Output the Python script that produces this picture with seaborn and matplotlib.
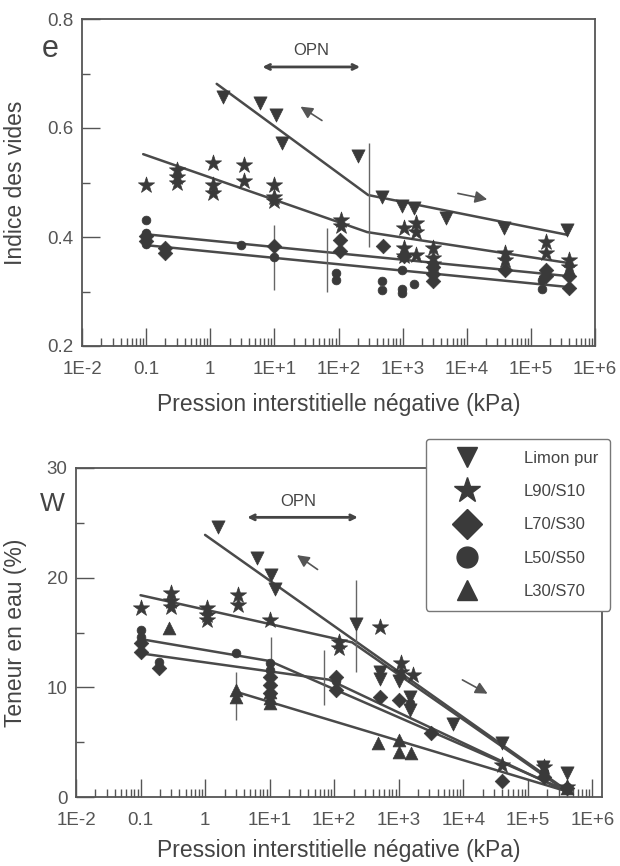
import matplotlib
matplotlib.use("Agg")
import matplotlib.pyplot as plt
from matplotlib.lines import Line2D
from matplotlib.ticker import FixedLocator, MultipleLocator, LogLocator, NullFormatter
import seaborn as sns

# ---- series names / markers
series_names = ["Limon pur", "L90/S10", "L70/S30", "L50/S50", "L30/S70"]
series_markers = ["v", "*", "D", "o", "^"]

# ---- top panel : void ratio e
top_limon_x = [1.6, 5.9, 10.7, 13, 204, 480, 980, 1500, 4700, 38000, 3.6e5]
top_limon_y = [0.657, 0.645, 0.623, 0.572, 0.549, 0.474, 0.456, 0.453, 0.435, 0.416, 0.413]
top_l90_x = [0.1, 0.3, 0.3, 0.3, 1.1, 1.1, 1.1, 3.4, 3.4, 10, 10, 10, 110, 110,
             1050, 1600, 1600, 1050, 1050, 1600, 3000, 3000, 3000, 40000, 40000,
             1.7e5, 1.7e5, 4e5, 4e5]
top_l90_y = [0.496, 0.523, 0.511, 0.499, 0.535, 0.496, 0.48, 0.532, 0.502, 0.496,
             0.474, 0.466, 0.431, 0.42, 0.416, 0.425, 0.41, 0.38, 0.365, 0.367,
             0.38, 0.362, 0.35, 0.37, 0.358, 0.39, 0.37, 0.358, 0.345]
top_l70_x = [0.1, 0.1, 0.2, 0.2, 10, 107, 107, 500, 1050, 3000, 3000, 3000,
             40000, 1.7e5, 1.7e5, 4e5, 4e5]
top_l70_y = [0.401, 0.392, 0.38, 0.37, 0.384, 0.395, 0.374, 0.384, 0.365, 0.345,
             0.332, 0.319, 0.340, 0.340, 0.328, 0.328, 0.307]
top_l50_x = [0.1, 0.1, 0.1, 3, 10, 93, 93, 480, 480, 980, 980, 980, 1500,
             1.5e5, 1.5e5, 4e5]
top_l50_y = [0.432, 0.407, 0.388, 0.386, 0.363, 0.334, 0.322, 0.32, 0.303, 0.339,
             0.304, 0.298, 0.313, 0.322, 0.304, 0.307]
top_l30_x = []
top_l30_y = []

# fitted lines (top)
top_fit_limon_x = [1.26, 290, 3.7e5]
top_fit_limon_y = [0.681, 0.477, 0.404]
top_fit_l90_x = [0.09, 280, 4e5]
top_fit_l90_y = [0.552, 0.409, 0.352]
top_fit_l70_x = [0.1, 4e5]
top_fit_l70_y = [0.405, 0.328]
top_fit_l50_x = [0.1, 4e5]
top_fit_l50_y = [0.385, 0.308]

top_bar_x = [10, 65, 300]
top_bar_lo = [0.303, 0.299, 0.382]
top_bar_hi = [0.422, 0.417, 0.573]

# ---- bottom panel : water content w
bot_limon_x = [1.6, 6.3, 10.5, 12, 215, 520, 520, 1000, 1500, 1500, 6900, 40000, 1.7e5, 4e5]
bot_limon_y = [24.6, 21.8, 20.2, 19.0, 15.8, 11.4, 10.8, 10.6, 9.1, 7.9, 6.7, 4.9, 2.7, 2.2]
bot_l90_x = [0.1, 0.3, 0.3, 0.3, 1.07, 1.07, 1.07, 3.2, 3.2, 10, 120, 120, 520,
             1070, 1070, 1650, 40000, 1.8e5, 4e5]
bot_l90_y = [17.2, 18.6, 17.9, 17.3, 17.2, 16.6, 16.1, 18.4, 17.5, 16.1, 14.1, 13.6,
             15.5, 12.2, 11.4, 11.1, 2.9, 2.7, 0.9]
bot_l70_x = [0.1, 0.1, 0.19, 10, 10, 10, 105, 105, 520, 1000, 3200, 40000, 1.8e5, 4e5]
bot_l70_y = [14.0, 13.2, 11.8, 10.9, 10.2, 9.5, 10.9, 9.8, 9.1, 8.8, 5.8, 1.5, 1.8, 0.8]
bot_l50_x = [0.1, 0.1, 0.19, 3.0, 10, 10, 105, 1500, 1.8e5, 4e5]
bot_l50_y = [15.2, 14.6, 12.3, 13.1, 12.2, 11.6, 10.6, 8.6, 2.3, 0.9]
bot_l30_x = [0.28, 3.0, 3.0, 10, 10, 10, 470, 1000, 1000, 1550, 4e5]
bot_l30_y = [15.4, 9.8, 9.1, 9.6, 9.0, 8.6, 4.9, 5.2, 4.1, 4.0, 0.8]

bot_fit_limon_x = [1.0, 3.6e5]
bot_fit_limon_y = [23.9, 0.8]
bot_fit_l90_x = [0.1, 190, 3.6e5]
bot_fit_l90_y = [18.4, 14.1, 0.7]
bot_fit_l50_x = [0.1, 10, 3.6e5]
bot_fit_l50_y = [14.4, 12.4, 0.7]
bot_fit_l70_x = [0.1, 83, 3.6e5]
bot_fit_l70_y = [13.1, 10.7, 0.6]
bot_fit_l30_x = [3.0, 3.6e5]
bot_fit_l30_y = [9.6, 0.6]

bot_bar_x = [3.0, 10.5, 69, 220]
bot_bar_lo = [7.0, 8.2, 8.4, 11.4]
bot_bar_hi = [11.4, 14.6, 13.4, 19.8]

x_tick_values = [1e-2, 1e-1, 1, 1e1, 1e2, 1e3, 1e4, 1e5, 1e6]
x_tick_labels = ["1E-2", "0.1", "1", "1E+1", "1E+2", "1E+3", "1E+4", "1E+5", "1E+6"]

INK = "#3a3a3a"
marker_sizes = {"v": 90, "*": 150, "D": 55, "o": 40, "^": 85}

sns.set_style("white")
plt.rcParams["font.family"] = ["Liberation Sans", "DejaVu Sans"]
plt.rcParams["text.color"] = "#444444"
plt.rcParams["axes.labelcolor"] = "#444444"
plt.rcParams["xtick.color"] = "#555555"
plt.rcParams["ytick.color"] = "#555555"

fig = plt.figure(figsize=(6.2, 8.66), dpi=100)
ax_e = fig.add_axes([82 / 620, 1 - 346 / 866, 513 / 620, 327 / 866])
ax_w = fig.add_axes([76 / 620, 1 - 797 / 866, 526 / 620, 329 / 866])


def draw_points(ax, xs, ys):
    for x, y, m in zip(xs, ys, series_markers):
        if len(x) == 0:
            continue
        sns.scatterplot(x=x, y=y, marker=m, s=marker_sizes[m], color=INK,
                        edgecolor=INK, linewidth=0.5, ax=ax, zorder=3)


def style_axis(ax, xmax):
    ax.set_xscale("log")
    ax.set_xlim(1e-2, xmax)
    ax.xaxis.set_major_locator(FixedLocator(x_tick_values))
    ax.set_xticklabels(x_tick_labels)
    ax.xaxis.set_minor_locator(LogLocator(base=10, subs=range(2, 10), numticks=20))
    ax.xaxis.set_minor_formatter(NullFormatter())
    ax.tick_params(which="both", bottom=True, left=True, top=False, right=False)
    ax.tick_params(which="major", direction="in", length=13, width=1, labelsize=13.5, pad=11)
    ax.tick_params(which="minor", direction="in", length=6, width=1)
    ax.tick_params(axis="y", which="major", pad=6)
    for sp in ax.spines.values():
        sp.set_color("#555555")
        sp.set_linewidth(1.3)
    ax.set_xlabel("Pression interstitielle négative (kPa)", fontsize=16.5)


# ---------- top panel
draw_points(ax_e, [top_limon_x, top_l90_x, top_l70_x, top_l50_x, top_l30_x],
            [top_limon_y, top_l90_y, top_l70_y, top_l50_y, top_l30_y])
for fx, fy in [(top_fit_limon_x, top_fit_limon_y), (top_fit_l90_x, top_fit_l90_y),
               (top_fit_l70_x, top_fit_l70_y), (top_fit_l50_x, top_fit_l50_y)]:
    ax_e.plot(fx, fy, color="#4a4a4a", lw=1.8, zorder=2)
ax_e.vlines(top_bar_x, top_bar_lo, top_bar_hi, color="#666666", lw=1)

style_axis(ax_e, 1e6)
ax_e.set_ylim(0.2, 0.8)
ax_e.yaxis.set_major_locator(FixedLocator([0.2, 0.4, 0.6, 0.8]))
ax_e.yaxis.set_minor_locator(FixedLocator([0.3, 0.5, 0.7]))
ax_e.set_ylabel("Indice des vides", fontsize=16.5)
ax_e.yaxis.set_label_coords(-0.108, 0.5)
ax_e.xaxis.set_label_coords(0.5, -0.145)
ax_e.text(-0.062, 0.745, "e", transform=ax_e.get_yaxis_transform(), fontsize=22,
          ha="center", va="center")

ax_e.text(10 ** 1.57, 0.742, "OPN", ha="center", va="center", fontsize=12)
ax_e.annotate("", xy=(10 ** 0.77, 0.712), xytext=(10 ** 2.38, 0.712),
              arrowprops=dict(arrowstyle="<->", color="#444444", lw=2, mutation_scale=9))
ax_e.annotate("", xy=(23.5, 0.642), xytext=(60, 0.611),
              arrowprops=dict(arrowstyle="-|>", color="#555555", lw=1.2, mutation_scale=18))
ax_e.annotate("", xy=(23000, 0.468), xytext=(6600, 0.481),
              arrowprops=dict(arrowstyle="-|>", color="#555555", lw=1.2, mutation_scale=18))

# ---------- bottom panel
draw_points(ax_w, [bot_limon_x, bot_l90_x, bot_l70_x, bot_l50_x, bot_l30_x],
            [bot_limon_y, bot_l90_y, bot_l70_y, bot_l50_y, bot_l30_y])
for fx, fy in [(bot_fit_limon_x, bot_fit_limon_y), (bot_fit_l90_x, bot_fit_l90_y),
               (bot_fit_l50_x, bot_fit_l50_y), (bot_fit_l70_x, bot_fit_l70_y),
               (bot_fit_l30_x, bot_fit_l30_y)]:
    ax_w.plot(fx, fy, color="#4a4a4a", lw=1.8, zorder=2)
ax_w.vlines(bot_bar_x, bot_bar_lo, bot_bar_hi, color="#666666", lw=1)

style_axis(ax_w, 10 ** 6.15)
ax_w.set_ylim(0, 30)
ax_w.yaxis.set_major_locator(FixedLocator([0, 10, 20, 30]))
ax_w.yaxis.set_minor_locator(FixedLocator([5, 15, 25]))
ax_w.set_ylabel("Teneur en eau (%)", fontsize=16.5)
ax_w.yaxis.set_label_coords(-0.093, 0.5)
ax_w.xaxis.set_label_coords(0.5, -0.128)
ax_w.text(-0.045, 26.7, "W", transform=ax_w.get_yaxis_transform(), fontsize=19,
          ha="center", va="center")

ax_w.text(10 ** 1.45, 26.9, "OPN", ha="center", va="center", fontsize=12)
ax_w.annotate("", xy=(10 ** 0.61, 25.5), xytext=(10 ** 2.41, 25.5),
              arrowprops=dict(arrowstyle="<->", color="#444444", lw=2, mutation_scale=9))
ax_w.annotate("", xy=(24.5, 22.2), xytext=(60, 20.6),
              arrowprops=dict(arrowstyle="-|>", color="#555555", lw=1.2, mutation_scale=18))
ax_w.annotate("", xy=(26000, 9.3), xytext=(8900, 10.8),
              arrowprops=dict(arrowstyle="-|>", color="#555555", lw=1.2, mutation_scale=18))

handles = [Line2D([], [], marker=m, ls="", color=INK, markersize=15 if m != "*" else 19)
           for m in series_markers]
leg = ax_w.legend(handles, series_names, loc="upper right", bbox_to_anchor=(1.015, 1.088),
                  fontsize=12, frameon=True, fancybox=True, framealpha=1,
                  handlelength=3.6, handletextpad=1.6, labelspacing=1.1,
                  borderpad=0.7, borderaxespad=0)
leg.get_frame().set_edgecolor("#777777")
leg.get_frame().set_linewidth(1)
leg.set_zorder(10)

fig.savefig("out.png", dpi=100, facecolor="white")
